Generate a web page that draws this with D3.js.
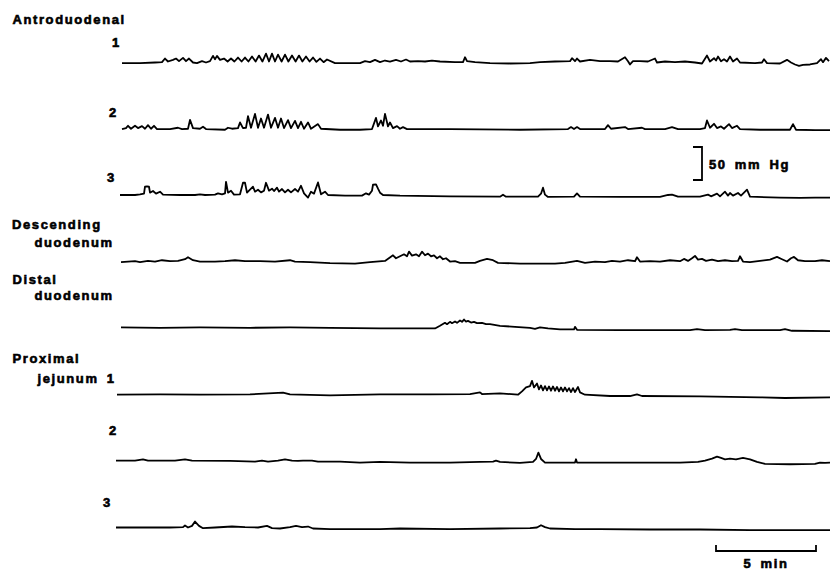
<!DOCTYPE html>
<html>
<head>
<meta charset="utf-8">
<script src="https://cdn.jsdelivr.net/npm/d3@7"></script>
<style>
  body { margin: 0; background: #fff; }
  #chart text { font-family: "Liberation Sans", Arial, sans-serif; font-weight: bold; font-size: 13px; letter-spacing: 1.6px; word-spacing: 3px; fill: #000; stroke: #000; stroke-width: 0.6px; }
</style>
</head>
<body>
<div id="chart"></div>
<script>
// traces: [time (min), pressure (mmHg)]
const ad1 = [[0.1,-1],[1.0,-1],[1.75,0],[2.1,0.5],[2.25,6],[2.4,1.5],[2.65,4],[2.8,6],[2.95,2],[3.15,7],[3.3,2],[3.45,6],[3.65,0],[3.85,-1],[4.1,2],[4.3,0],[4.5,2],[4.65,10],[4.75,5],[4.85,10],[5.0,4],
  [5.2,6],[5.38,1.5],[5.55,6],[5.72,1.5],[5.9,7.5],[6.08,1.5],[6.25,7.5],[6.42,1.5],[6.6,9],[6.78,1.5],[6.95,10.5],[7.12,1.5],[7.3,13.5],[7.45,1.5],[7.6,13.5],[7.75,1.5],[7.9,12],[8.08,1.5],[8.25,12],[8.42,1.5],[8.6,10.5],[8.78,1.5],[8.95,10.5],[9.12,1.5],[9.3,9],[9.48,1.5],[9.65,7.5],[9.82,1],[10.0,6],[10.18,0.5],[10.35,4.5],
  [10.75,-1],[12.0,-1],[12.25,2],[12.5,0.5],[12.75,4],[13.0,0.5],[13.25,3],[13.5,1.5],[13.8,4],[14.05,1.5],[14.3,4.5],[14.5,1.5],[14.9,2],[15.25,1.5],[15.6,3],[16.0,1.5],[16.75,0.5],[17.15,0.5],[17.25,8],[17.35,2],[17.75,0.5],[18.5,-1],[19.5,-1.5],[20.5,-1],
  [21.0,0.5],[21.75,1.5],[22.5,2],[22.6,6.5],[22.75,2],[22.85,6],[23.0,1.5],[23.5,4],[24.0,2],[24.5,2],[24.9,1.5],[25.25,8],[25.4,2],[25.5,-3],[25.65,2],[26.0,2],[26.4,1.5],[26.75,6],[26.85,0],[27.25,1.5],[27.75,0.5],[28.25,1.5],[28.75,0],[29.1,-1.5],
  [29.35,10.5],[29.5,1.5],[29.7,6.5],[29.8,3],[29.9,9],[30.05,2],[30.2,5],[30.35,1.5],[30.5,9],[30.65,1.5],[30.85,6],[31.0,0],[31.75,-1],[32.1,0],[32.2,5],[32.35,-1],[33.0,-1.5],[33.35,4],[33.55,0],[33.75,-3],[33.95,-5],[34.15,-3.5],[34.5,-3],[34.85,-1],[35.05,5],[35.15,0.5],[35.3,7],[35.45,2]];

const ad2 = [[0.1,0],[0.3,1.5],[0.4,5],[0.55,0.5],[0.75,5],[0.9,1.5],[1.1,4.5],[1.25,0.5],[1.4,6],[1.55,0.5],[1.7,5],[1.85,0],[2.5,0],[2.9,2],[3.1,0],[3.4,0.5],[3.5,14],[3.65,1.5],[4.0,0.5],[4.15,3.5],[4.3,0],[5.25,-1],[5.4,2],[5.6,0.5],
  [5.9,1.5],[6.0,10],[6.15,1.5],[6.3,2],[6.4,19.5],[6.55,2],[6.75,23],[6.9,2],[7.05,16],[7.2,2],[7.4,22],[7.55,2],[7.75,17],[7.9,2],[8.05,16],[8.2,1.5],[8.4,13.5],[8.55,1.5],[8.75,12.5],[8.9,1.5],[9.05,11],[9.2,0.5],[9.4,10],[9.55,0.5],[9.9,7.5],[10.05,0.5],
  [11.0,-1],[12.0,-1],[12.6,0],[12.8,17],[12.9,4],[13.05,13],[13.15,5],[13.25,23],[13.4,4],[13.5,10],[13.65,1.5],[13.85,4.5],[14.0,0.5],[14.15,3],[14.35,0],[16.5,0],[20.0,-1],
  [22.4,0],[22.55,3],[22.7,0],[22.85,3],[23.0,0],[24.25,0],[24.4,6],[24.55,0.5],[25.25,3],[25.4,0],[26.1,2],[26.25,0],[27.25,0],[27.6,3],[27.9,0],[29.0,0],[29.25,1.5],[29.35,13],[29.5,2],[29.7,8],[29.85,1.5],[30.05,4],[30.2,0.5],[30.45,7.5],[30.6,1.5],[30.85,5],[31.0,0],
  [32.0,-1],[33.5,-1],[33.65,7.5],[33.8,-1],[34.75,-1.5],[35.5,-1.5]];

const ad3 = [[0.0,1],[0.75,1],[1.0,2],[1.2,3],[1.25,13.5],[1.35,14],[1.45,13.5],[1.5,4.5],[1.65,7],[1.8,3],[2.0,6],[2.15,1.5],[3.0,1],[3.75,1],[4.0,2],[4.25,1],[4.75,1.5],[4.9,3.5],[5.1,2],[5.25,3.5],[5.3,21],[5.4,4.5],[5.55,7.5],[5.7,1.5],
  [6.0,2],[6.15,19.5],[6.25,19.5],[6.35,4.5],[6.5,9],[6.65,13.5],[6.75,6],[6.9,9],[7.05,5],[7.2,7.5],[7.3,19.5],[7.45,7.5],[7.6,10.5],[7.7,7],[7.85,12],[7.95,6],[8.1,10],[8.25,5],[8.4,9],[8.55,5],[8.75,10],[8.9,6],[9.05,15],[9.2,3.5],[9.4,-3],[9.55,6],[9.7,3],[9.9,20],[10.05,2],[10.25,6],[10.4,1],
  [11.25,0],[12.1,0],[12.3,3.5],[12.45,1.5],[12.6,7.5],[12.65,16.5],[12.8,17],[12.9,10.5],[13.0,4.5],[13.15,1],[14.0,0],[16.5,-1],[19.0,-1.5],[19.15,1.5],[19.3,-1.5],[20.9,-1.5],[21.05,3],[21.15,12],[21.25,1.5],[21.4,-2],[22.7,-1.5],[22.85,3.5],[23.0,-1.5],
  [25.0,-2],[27.0,-2],[27.4,1],[27.6,1.5],[27.9,-1.5],[29.0,-1.5],[29.4,1.5],[29.55,-1],[29.85,3],[30.0,-1],[30.25,6],[30.4,0],[30.5,4],[30.65,0],[30.9,4],[31.05,0],[31.35,9],[31.5,-1.5],[33.0,-3],[34.0,-3.5],[34.75,-3],[35.5,-3]];

const desc = [[0.05,0],[0.75,1.5],[1.0,0],[1.4,2],[1.75,1],[2.1,3],[2.5,1.5],[2.9,2],[3.25,4.5],[3.4,7.5],[3.65,3],[4.0,1],[4.75,1],[5.25,1.5],[5.75,3],[6.25,1.5],[7.0,1.5],[7.75,1],[8.5,3],[8.75,1],[9.5,0],[10.5,-1.5],[11.75,-2],[12.5,0],[13.25,2],
  [13.65,10.5],[13.8,6],[14.0,9],[14.2,12],[14.35,9],[14.45,16],[14.6,10],[14.8,12],[14.95,9],[15.1,16],[15.25,10.5],[15.4,13],[15.55,9],[15.7,10.5],[15.85,6],[16.0,9],[16.15,4.5],[16.3,6],[16.5,1],[16.75,1.5],[17.0,-1],[17.75,-1],[18.0,2],[18.35,5],[18.65,3],[18.9,-1],
  [20.0,-2],[21.75,-2],[22.25,-1],[22.85,2],[23.25,-1],[23.75,1],[24.25,0],[24.6,2],[25.0,1],[25.4,3],[25.75,1.5],[25.85,7.5],[26.0,1],[26.5,1.5],[27.0,1],[27.5,3],[28.0,1.5],[28.2,5],[28.4,2],[28.6,6],[28.75,9.5],[28.9,4],[29.1,5],[29.3,2],[29.6,4],[29.9,1.5],
  [30.25,3],[30.6,1.5],[30.9,2],[31.0,9],[31.15,1],[31.5,0],[32.0,2],[32.5,4],[32.85,8],[33.1,4.5],[33.35,1],[33.55,6],[33.7,8],[33.9,3],[34.25,1.5],[34.75,1.5],[35.1,3],[35.5,1.5]];

const distal = [[0.05,2],[2.0,1.5],[4.0,2],[6.5,1.5],[8.5,2],[10.5,1.5],[13.0,0.5],[15.0,0.5],[15.75,0.5],[16.0,4.5],[16.25,9],[16.35,7],[16.5,10.5],[16.6,8.5],[16.75,11],[16.85,9],[17.0,12.5],[17.1,10.5],[17.2,14],[17.3,11],[17.4,12],[17.55,9.5],[17.7,10.5],[17.85,8.5],[18.1,9],[18.3,7],[18.5,7],[19.0,4.5],[19.75,3],[20.5,1.5],[20.75,0],
  [21.0,2],[21.4,0.5],[22.0,-1],[22.7,-1],[22.75,3],[22.85,-1.5],[25.0,-2],[28.5,-2],[28.85,-0.5],[29.25,-2],[30.5,-1.5],[30.75,-0.5],[31.1,-2],[33.0,-2],[33.25,-0.5],[33.6,-3],[35.5,-3.5]];

const pj1 = [[-0.15,1],[2.0,1.5],[4.0,1],[6.5,1.5],[8.15,4],[8.5,1.5],[10.5,0],[13.0,1.5],[15.5,1.5],[17.5,2],[18.0,4.5],[18.1,2],[19.0,3],[19.9,1],[20.1,6],[20.3,12],[20.5,14],[20.6,22],[20.7,12],
  [20.85,18],[20.95,9],[21.05,15],[21.15,7.5],[21.25,14],[21.35,7.5],[21.45,13.5],[21.55,7],[21.65,13.5],[21.75,7],[21.85,12.75],[21.95,6],[22.05,12],[22.15,6],[22.25,12],[22.35,6],[22.45,11],[22.55,5],[22.65,11],[22.75,5],[22.9,12.75],[23.0,4.5],
  [23.25,1],[24.5,-1],[25.5,-1],[25.85,1.5],[26.1,-1],[29.0,-1.5],[32.0,-3],[33.25,-4],[35.5,-3]];

const pj2 = [[-0.2,2],[0.75,2],[1.15,4],[1.4,2],[2.75,2],[3.25,4],[3.6,2],[5.5,1.5],[6.75,0.5],[7.1,2],[7.4,0.5],[7.9,2],[8.25,4],[8.6,2],[8.9,1.5],[9.15,2],[9.6,2],[9.9,0.5],[11.0,0.5],[12.0,-1],[13.0,0],[14.5,-1],[16.5,-1],[18.0,0],[18.65,0.5],[18.8,2],[19.0,0],[20.0,-1.5],
  [20.65,0],[20.8,4.5],[20.92,14],[21.05,4.5],[21.25,-1],[22.75,-1],[22.8,4],[22.85,-1],[25.0,-1],[28.0,-1],[28.9,0],[29.25,2],[29.6,5],[29.85,8],[30.05,6],[30.25,4],[30.5,5],[30.8,4],[31.15,6],[31.5,4],[31.85,0],[32.25,-3],[33.5,-3.5],[34.75,-3],[35.0,-1],[35.25,-1.5],[35.5,-1]];

const pj3 = [[-0.2,1.5],[1.5,1.5],[2.5,1.5],[3.15,2],[3.25,4.5],[3.4,1.5],[3.6,4],[3.75,10.5],[3.95,4],[4.15,0.5],[4.75,1.5],[5.6,3],[6.25,2],[6.9,1.5],[7.35,4],[7.6,0.5],[8.0,0],[8.5,2],[8.8,4],[9.1,2],[9.4,3],[9.65,0],[10.5,-1],[13.0,-1],[14.0,0],[16.5,-1],[19.0,0],
  [20.5,0.5],[20.85,1.5],[21.05,5],[21.25,2],[21.5,0],[22.75,-1],[24.0,-1],[26.5,-1.5],[29.0,-1.5],[31.5,-2.5],[34.0,-2.5],[35.5,-2.5]];

const channels = ["ad1", "ad2", "ad3", "desc", "distal", "pj1", "pj2", "pj3"];
const traces = [ad1, ad2, ad3, desc, distal, pj1, pj2, pj3];

// side labels: [text, x, baseline]
const labels = [
  ["Antroduodenal", 12.5, 24], ["1", 112, 47], ["2", 109, 117], ["3", 107, 182],
  ["Descending", 12, 229], ["duodenum", 34.5, 247],
  ["Distal", 12.5, 284], ["duodenum", 34.5, 300],
  ["Proximal", 12.5, 363], ["jejunum 1", 37.5, 383],
  ["2", 109, 435], ["3", 103, 507]
];
const pressureBar = 50;   // mm Hg
const timeBar = 5;        // min

const width = 830, height = 572;

const svg = d3.select("#chart").append("svg")
  .attr("width", width)
  .attr("height", height);

const x = d3.scaleLinear().domain([0, 35.5]).range([120, 830]);
const lane = d3.scalePoint().domain(channels).range([62.5, 528.5]);
// 50 mm Hg = 33 px
const p = d3.scaleLinear().domain([0, 50]).range([0, -33]);

svg.append("g").selectAll("path")
  .data(traces)
  .join("path")
  .attr("d", (d, i) => {
    let base = lane(channels[i]);
    return d3.line().x(e => x(e[0])).y(e => base + p(e[1]))(d);
  })
  .attr("fill", "none")
  .attr("stroke", "#000")
  .attr("stroke-width", 1.8)
  .attr("stroke-linejoin", "round");

svg.append("g").selectAll("text")
  .data(labels)
  .join("text")
  .attr("x", d => d[1])
  .attr("y", d => d[2])
  .text(d => d[0]);

// pressure calibration bracket
let bx = 702, by = 180;
svg.append("path")
  .attr("d", `M${bx - 9},${by + p(pressureBar)}H${bx}V${by}H${bx - 9}`)
  .attr("fill", "none")
  .attr("stroke", "#000")
  .attr("stroke-width", 1.8);
svg.append("text")
  .attr("x", 709)
  .attr("y", 168.5)
  .text(pressureBar + " mm Hg");

// time bar
let t0 = 29.8, ty = 551;
svg.append("path")
  .attr("d", `M${x(t0)},${ty - 6}V${ty}H${x(t0 + timeBar)}V${ty - 6}`)
  .attr("fill", "none")
  .attr("stroke", "#000")
  .attr("stroke-width", 1.8);
svg.append("text")
  .attr("x", (x(t0) + x(t0 + timeBar)) / 2)
  .attr("y", 568)
  .attr("text-anchor", "middle")
  .text(timeBar + " min");
</script>
</body>
</html>
